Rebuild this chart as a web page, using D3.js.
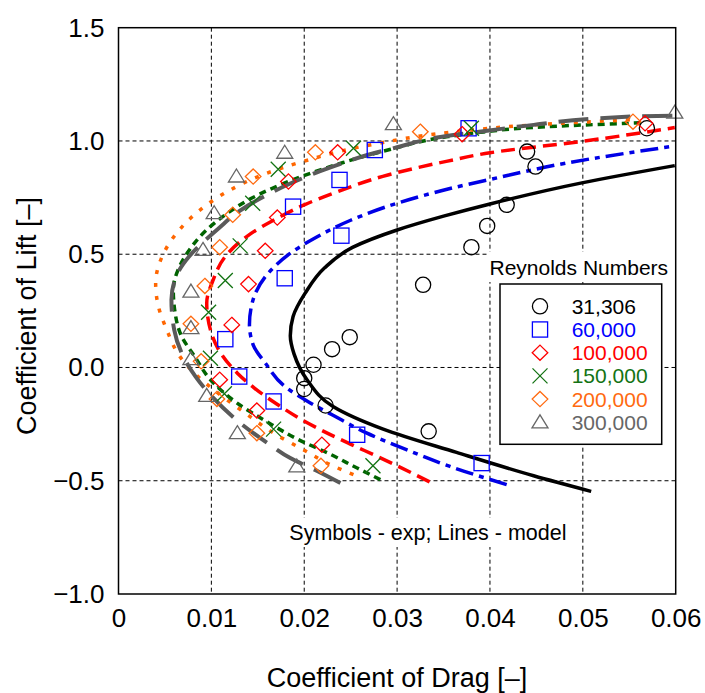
<!DOCTYPE html>
<html><head><meta charset="utf-8">
<script src="https://cdn.jsdelivr.net/npm/d3@7/dist/d3.min.js"></script>
<style>body{margin:0;background:#fff}svg{display:block;font-family:"Liberation Sans",Arial,sans-serif}</style>
</head><body><svg id="c" width="705" height="693"></svg>
<script>
// ---- data ----
const xTicks = [0, 0.01, 0.02, 0.03, 0.04, 0.05, 0.06];
const xTickLabels = ["0", "0.01", "0.02", "0.03", "0.04", "0.05", "0.06"];
const yTicks = [1.5, 1.0, 0.5, 0.0, -0.5, -1.0];
const yTickLabels = ["1.5", "1.0", "0.5", "0.0", "\u22120.5", "\u22121.0"];
const seriesNames = ["31,306", "60,000", "100,000", "150,000", "200,000", "300,000"];

// experimental points [Cd, Cl]
const exp31306 = [[0.0569,1.056],[0.0440,0.953],[0.0449,0.887],[0.0418,0.718],[0.0397,0.625],[0.0380,0.531],[0.0328,0.365],[0.0249,0.134],[0.0230,0.081],[0.0210,0.012],[0.0200,-0.047],[0.0200,-0.095],[0.0223,-0.168],[0.0334,-0.282]];
const exp60000 = [[0.0377,1.056],[0.0276,0.960],[0.0238,0.828],[0.0188,0.710],[0.0240,0.582],[0.0179,0.394],[0.0115,0.125],[0.0130,-0.040],[0.0167,-0.150],[0.0257,-0.297],[0.0391,-0.422]];
const exp100000 = [[0.0567,1.078],[0.0370,1.030],[0.0236,0.950],[0.0183,0.821],[0.0171,0.662],[0.0158,0.515],[0.0140,0.368],[0.0122,0.188],[0.0109,-0.054],[0.0149,-0.190],[0.0219,-0.341]];
const exp150000 = [[0.0380,1.056],[0.0253,0.968],[0.0172,0.875],[0.01445,0.725],[0.0131,0.537],[0.0115,0.384],[0.0097,0.244],[0.0099,0.041],[0.0114,-0.116],[0.0167,-0.272],[0.0274,-0.434]];
const exp200000 = [[0.0554,1.085],[0.0325,1.041],[0.0212,0.950],[0.0145,0.843],[0.0123,0.674],[0.0109,0.531],[0.0093,0.360],[0.0078,0.193],[0.0089,0.027],[0.0106,-0.139],[0.0149,-0.290],[0.0218,-0.434]];
const exp300000 = [[0.0599,1.125],[0.0296,1.074],[0.0179,0.948],[0.0127,0.843],[0.0103,0.681],[0.0091,0.519],[0.0078,0.335],[0.0078,0.174],[0.0078,0.037],[0.0095,-0.125],[0.0128,-0.290],[0.0192,-0.437]];

// model curves [Cd, Cl]
const model31306 = [[0.0509,-0.547],[0.0447,-0.478],[0.0364,-0.375],[0.0285,-0.272],[0.0231,-0.172],[0.0203,-0.054],[0.0189,0.06],[0.0185,0.14],[0.0188,0.225],[0.0201,0.328],[0.0222,0.440],[0.0252,0.530],[0.0300,0.607],[0.0350,0.668],[0.0400,0.722],[0.0499,0.815],[0.0599,0.891]];
const model60000 = [[0.0418,-0.517],[0.0357,-0.437],[0.0310,-0.363],[0.0267,-0.289],[0.0231,-0.211],[0.0203,-0.148],[0.0181,-0.090],[0.0158,0.02],[0.0145,0.10],[0.0141,0.19],[0.0145,0.30],[0.0160,0.410],[0.0182,0.495],[0.0213,0.575],[0.0250,0.650],[0.0300,0.725],[0.0357,0.790],[0.0400,0.830],[0.0483,0.903],[0.0594,0.975]];
const model100000 = [[0.0335,-0.505],[0.0280,-0.395],[0.0249,-0.337],[0.0221,-0.282],[0.0195,-0.225],[0.0170,-0.160],[0.0146,-0.090],[0.0128,-0.025],[0.0110,0.064],[0.0099,0.166],[0.0095,0.284],[0.0102,0.387],[0.0115,0.490],[0.0138,0.578],[0.0170,0.657],[0.0200,0.718],[0.0235,0.775],[0.0290,0.850],[0.0353,0.910],[0.0400,0.948],[0.0497,0.997],[0.0599,1.059]];
const model150000 = [[0.0282,-0.495],[0.0257,-0.444],[0.0228,-0.383],[0.0192,-0.315],[0.0160,-0.240],[0.0127,-0.155],[0.0099,-0.054],[0.0082,0.049],[0.0068,0.137],[0.0061,0.240],[0.0059,0.343],[0.0064,0.43],[0.0074,0.505],[0.0093,0.600],[0.0117,0.680],[0.0140,0.740],[0.0165,0.790],[0.0199,0.846],[0.0242,0.905],[0.0292,0.962],[0.0353,1.018],[0.0393,1.040],[0.0447,1.060],[0.0567,1.081]];
const model200000 = [[0.0253,-0.473],[0.0228,-0.429],[0.0199,-0.363],[0.0170,-0.297],[0.0134,-0.194],[0.0103,-0.100],[0.0083,-0.030],[0.0066,0.049],[0.0052,0.166],[0.0043,0.269],[0.0040,0.372],[0.0047,0.490],[0.0064,0.600],[0.0088,0.696],[0.0117,0.776],[0.0156,0.852],[0.0195,0.905],[0.0274,0.985],[0.0357,1.038],[0.0447,1.071],[0.0560,1.095]];
const model300000 = [[0.0239,-0.510],[0.0215,-0.459],[0.0185,-0.400],[0.0163,-0.341],[0.0131,-0.245],[0.0101,-0.130],[0.0083,-0.040],[0.0068,0.064],[0.0060,0.166],[0.0057,0.299],[0.0063,0.410],[0.0076,0.490],[0.0090,0.549],[0.0108,0.615],[0.0130,0.690],[0.0160,0.762],[0.0185,0.812],[0.0213,0.860],[0.0240,0.900],[0.0267,0.937],[0.0300,0.972],[0.0343,1.015],[0.0397,1.045],[0.0447,1.071],[0.0554,1.108],[0.0599,1.112]];

// ---- setup ----
const svg = d3.select("#c");
const L = 118.5, R = 675.7, T = 27.7, B = 594;
const x = d3.scaleLinear().domain([0, 0.06]).range([L, R]);
const y = d3.scaleLinear().domain([-1, 1.5]).range([B, T]);

const colors = ["#000000", "#0000ff", "#ff0000", "#137313", "#ff6a10", "#666666"];
const lineColors = ["#000000", "#0000e6", "#ff0000", "#006400", "#ff6600", "#5a5a5a"];
const dashes = [null, "18,6,5,6", "14,7", "7,5", "4,9", "30,12"];
const shapes = ["circle", "square", "diamond", "x", "diamond", "triangle"];
const expData = [exp31306, exp60000, exp100000, exp150000, exp200000, exp300000];
const modelData = [model31306, model60000, model100000, model150000, model200000, model300000];

svg.append("defs").append("clipPath").attr("id", "clip")
  .append("rect").attr("x", L).attr("y", T).attr("width", R - L).attr("height", B - T);

// grid
const grid = svg.append("g").attr("stroke", "#000").attr("stroke-width", 1).attr("stroke-dasharray", "4,3");
xTicks.slice(1, -1).forEach(v => grid.append("line").attr("x1", x(v)).attr("x2", x(v)).attr("y1", T).attr("y2", B));
yTicks.slice(1, -1).forEach(v => grid.append("line").attr("y1", y(v)).attr("y2", y(v)).attr("x1", L).attr("x2", R));

// white label backgrounds
svg.append("rect").attr("x", 488).attr("y", 252).attr("width", R - 488).attr("height", 30).attr("fill", "#fff");
svg.append("rect").attr("x", 285).attr("y", 518).attr("width", 287).attr("height", 29).attr("fill", "#fff");

// axes
const xAxis = svg.append("g").attr("transform", `translate(0,${B})`)
  .call(d3.axisBottom(x).tickValues(xTicks).tickFormat((d, i) => xTickLabels[i]).tickSize(0).tickPadding(15));
const yAxis = svg.append("g").attr("transform", `translate(${L},0)`)
  .call(d3.axisLeft(y).tickValues(yTicks).tickFormat((d, i) => yTickLabels[i]).tickSize(0).tickPadding(14));
[xAxis, yAxis].forEach(a => {
  a.select(".domain").remove();
  a.selectAll("text").attr("font-size", 26).attr("fill", "#000").attr("font-family", '"Liberation Sans",Arial,sans-serif');
});

// axis titles
svg.append("text").attr("x", 397).attr("y", 687).attr("text-anchor", "middle")
  .attr("font-size", 27).text("Coefficient of Drag [\u2013]");
svg.append("text").attr("transform", "translate(36,316) rotate(-90)").attr("text-anchor", "middle")
  .attr("font-size", 27).text("Coefficient of Lift [\u2013]");

// model lines (smooth, monotone in Cl)
const line = d3.line().x(d => x(d[0])).y(d => y(d[1])).curve(d3.curveMonotoneY);
const lg = svg.append("g").attr("clip-path", "url(#clip)");
modelData.forEach((data, i) => {
  const ordered = data.slice().sort((a, b) => b[1] - a[1]).reverse();
  lg.append("path").attr("d", line(ordered)).attr("fill", "none")
    .attr("stroke", lineColors[i]).attr("stroke-width", i === 5 ? 4 : 3.5)
    .attr("stroke-dasharray", dashes[i]).attr("stroke-linecap", "butt");
});

// markers
function marker(g, shape, cx, cy, col) {
  const s = 1.3;
  if (shape === "circle") g.append("circle").attr("cx", cx).attr("cy", cy).attr("r", 7.6).attr("fill", "none").attr("stroke", col).attr("stroke-width", s);
  else if (shape === "square") g.append("rect").attr("x", cx - 7.6).attr("y", cy - 7.6).attr("width", 15.2).attr("height", 15.2).attr("fill", "none").attr("stroke", col).attr("stroke-width", s);
  else if (shape === "diamond") g.append("path").attr("d", `M${cx},${cy - 7.6}L${cx + 7.8},${cy}L${cx},${cy + 7.6}L${cx - 7.8},${cy}Z`).attr("fill", "none").attr("stroke", col).attr("stroke-width", s);
  else if (shape === "x") g.append("path").attr("d", `M${cx - 7.5},${cy - 7.5}L${cx + 7.5},${cy + 7.5}M${cx + 7.5},${cy - 7.5}L${cx - 7.5},${cy + 7.5}`).attr("fill", "none").attr("stroke", col).attr("stroke-width", s);
  else if (shape === "triangle") g.append("path").attr("d", `M${cx},${cy - 7.5}L${cx + 8},${cy + 5.5}L${cx - 8},${cy + 5.5}Z`).attr("fill", "none").attr("stroke", col).attr("stroke-width", s);
}
const mg = svg.append("g");
expData.forEach((data, i) => {
  data.forEach(d => marker(mg, shapes[i], x(d[0]), y(d[1]), colors[i]));
});

// plot border
svg.append("rect").attr("x", L).attr("y", T).attr("width", R - L).attr("height", B - T)
  .attr("fill", "none").attr("stroke", "#000").attr("stroke-width", 1.5);

// legend
svg.append("text").attr("x", 489.5).attr("y", 275).attr("font-size", 21).text("Reynolds Numbers");
svg.append("rect").attr("x", 500).attr("y", 284).attr("width", 161.7).attr("height", 160.3)
  .attr("fill", "#fff").attr("stroke", "#000").attr("stroke-width", 1.5);
const lgd = svg.append("g");
seriesNames.forEach((n, i) => {
  const cy = 306.3 + i * 23.2;
  marker(lgd, shapes[i], 540, cy, colors[i]);
  lgd.append("text").attr("x", 571.7).attr("y", cy + 7.5).attr("font-size", 21).attr("fill", colors[i]).text(n);
});

// annotation
svg.append("text").attr("x", 289.3).attr("y", 540).attr("font-size", 21.5).text("Symbols - exp; Lines - model");
</script></body></html>
